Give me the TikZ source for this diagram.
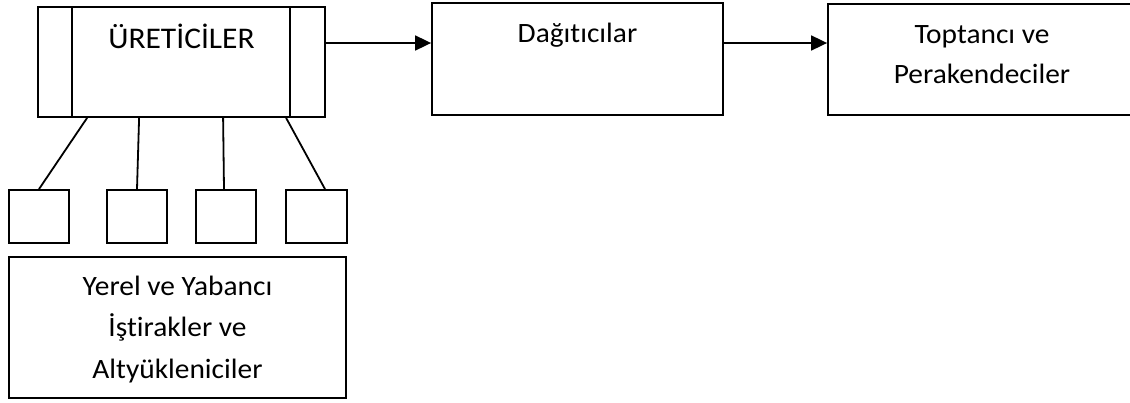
\documentclass[tikz,border=0pt]{standalone}
\usepackage{fontspec}
\setmainfont[FakeStretch=1.05,Ligatures=NoCommon]{Carlito}
\usetikzlibrary{arrows.meta}

\begin{document}
\begin{tikzpicture}[x=1pt,y=-1pt,line width=1.8pt,
  box/.style={draw,rectangle,inner sep=0pt},
  txt/.style={align=center,inner sep=0pt,anchor=base,font=\fontsize{28}{41.5}\selectfont},
  arr/.style={-{Triangle[length=16pt,width=15pt]}}]
 \useasboundingbox (0,0) rectangle (1130,402);
 \node[box,minimum width=287pt,minimum height=110pt] (prod) at (181.5,62) {};
 \node[box,minimum width=291pt,minimum height=112pt] (dist) at (577.5,59) {};
 \node[box,minimum width=308pt,minimum height=111pt] (retail) at (982,59.5) {};
 \node[box,minimum width=60pt,minimum height=53pt] (s1) at (39,216.5) {};
 \node[box,minimum width=60pt,minimum height=53pt] (s2) at (137,216.5) {};
 \node[box,minimum width=60pt,minimum height=53pt] (s3) at (226,216.5) {};
 \node[box,minimum width=61pt,minimum height=53pt] (s4) at (316.5,216.5) {};
 \node[box,minimum width=337pt,minimum height=141pt] (sub) at (177.5,327.5) {};
 \node[txt,font=\fontsize{30}{36}\selectfont] (prodtext) at (181.5,48) {ÜRETİCİLER};
 \node[txt] (disttext) at (577.5,42) {Dağıtıcılar};
 \node[txt,font=\fontsize{28}{40}\selectfont] (retailtext) at (982,83) {Toptancı ve\\Perakendeciler};
 \node[txt] (subtext) at (177.5,378) {Yerel ve Yabancı\\İştirakler ve\\Altyükleniciler};
 \coordinate (a1) at ([yshift=19pt]prod.east);
 \coordinate (a2) at ([yshift=16pt]dist.east);
 \draw ([xshift=35pt]prod.north west) -- ([xshift=35pt]prod.south west);
 \draw ([xshift=-36pt]prod.north east) -- ([xshift=-36pt]prod.south east);
 \draw ([xshift=50pt]prod.south west) -- (s1.north);
 \draw ([xshift=102pt]prod.south west) -- (s2.north);
 \draw ([xshift=186pt]prod.south west) -- ([xshift=-2pt]s3.north);
 \draw ([xshift=249pt]prod.south west) -- ([xshift=8.5pt]s4.north);
 \draw[arr] (a1) -- (dist.west |- a1);
 \draw[arr] (a2) -- (retail.west |- a2);
\end{tikzpicture}
\end{document}
